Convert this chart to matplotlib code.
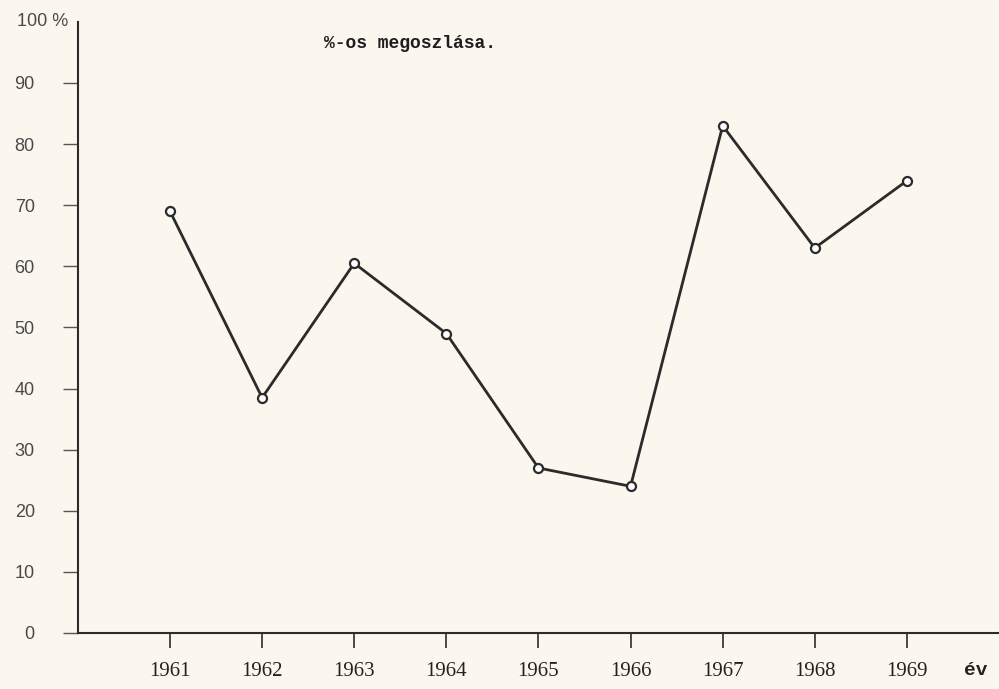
import matplotlib
matplotlib.use("Agg")
import matplotlib.pyplot as plt
import matplotlib.transforms as mtransforms

# share (%) per year
years = [1961, 1962, 1963, 1964, 1965, 1966, 1967, 1968, 1969]
share = [69, 38.5, 60.5, 49, 27, 24, 83, 63, 74]

y_ticks = [0, 10, 20, 30, 40, 50, 60, 70, 80, 90]
title = "%-os megoszlása."
x_unit = "év"

paper = "#fbf7ee"
ink = "#2b2b2b"

fig = plt.figure(figsize=(9.99, 6.89), dpi=100, facecolor=paper)
ax = fig.add_axes([0.078, 0.0813, 0.922, 0.887], facecolor=paper)

ax.plot(years, share, color=ink, lw=2.0, marker="o", ms=6.5,
        mfc="white", mec=ink, mew=1.6, zorder=3)

ax.set_xlim(1960, 1970)
ax.set_ylim(0, 100)

for s in ["top", "right"]:
    ax.spines[s].set_visible(False)
for s in ["left", "bottom"]:
    ax.spines[s].set_color(ink)
    ax.spines[s].set_linewidth(1.5)

ax.set_xticks(years)
ax.set_xticklabels([str(y) for y in years], fontfamily="Liberation Serif",
                   fontsize=15, color="#222")
ax.set_yticks(y_ticks)
ax.set_yticklabels([str(v) for v in y_ticks], fontfamily="Liberation Sans",
                   fontsize=13, color="#4a4a4a")
ax.tick_params(axis="x", direction="out", length=11, width=1.2,
               color=ink, pad=10)
ax.tick_params(axis="y", direction="out", length=11, width=1.0,
               color="#555", pad=20)

# top of the scale with the percent sign
trans = mtransforms.blended_transform_factory(ax.transAxes, ax.transData)
ax.text(-0.01, 100, "100 %", transform=trans, ha="right", va="center",
        fontfamily="Liberation Sans", fontsize=13, color="#4a4a4a",
        clip_on=False)

# unit label at the end of the time axis
ax.text(0.975, -0.062, x_unit, transform=ax.transAxes, ha="center",
        va="center", fontfamily="Liberation Mono", fontweight="bold",
        fontsize=14, color="#222", clip_on=False)

fig.text(0.41, 0.937, title, ha="center", va="center",
         fontfamily="Liberation Mono", fontweight="bold", fontsize=13,
         color="#1e1e1e")

fig.savefig("out.png", dpi=100, facecolor=paper)
